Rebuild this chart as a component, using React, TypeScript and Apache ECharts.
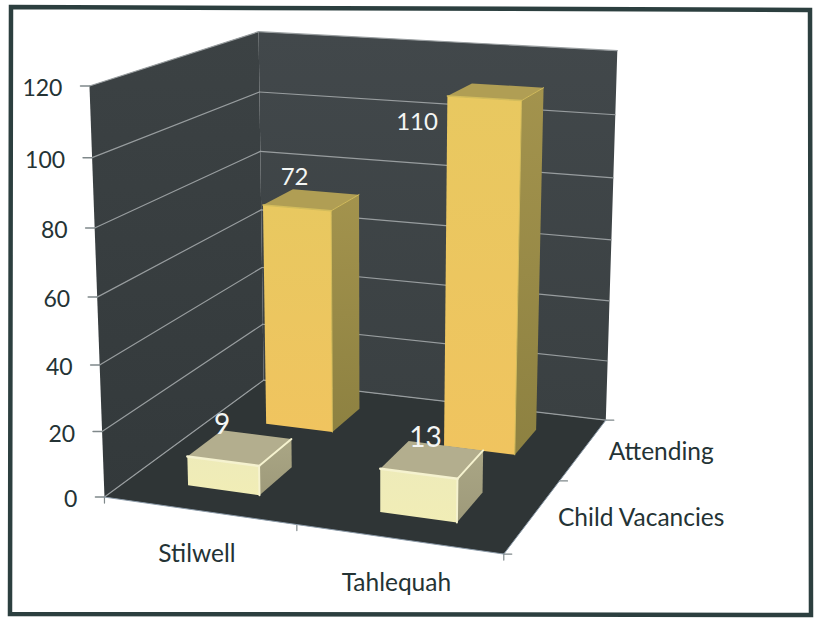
import React, { useEffect, useRef } from "react";
import * as echarts from "echarts";

const categories = ["Stilwell", "Tahlequah"];
const depthNames = ["Child Vacancies", "Attending"];
const childVacancies = [9, 13];
const attending = [72, 110];
const valueTicks = [0, 20, 40, 60, 80, 100, 120];

const W = 814, H = 618;
const FONT = "Lato";
const INK = "#243335";

// calibration of the 3D box: [X, V, Z] -> screen
const calibration: number[][] = [
  [0, 0, 0, 103, 497], [0, 20, 0, 102, 431], [0, 40, 0, 100, 364], [0, 60, 0, 98, 297], [0, 80, 0, 95, 228], [0, 100, 0, 92, 157], [0, 120, 0, 90, 87],
  [0, 0, 1, 265, 380], [0, 20, 1, 263, 325], [0, 40, 1, 262, 267], [0, 60, 1, 261, 210], [0, 80, 1, 260, 152], [0, 100, 1, 259, 92], [0, 120, 1, 258, 31],
  [1, 0, 1, 607, 418], [1, 20, 1, 607, 362], [1, 40, 1, 608, 302], [1, 60, 1, 611, 240], [1, 80, 1, 613, 178], [1, 100, 1, 616, 115], [1, 120, 1, 618, 50],
  [1, 0, 0, 504, 553], [0.5, 0, 0, 296, 527], [1, 0, 0.5, 560, 481],
];

function solveProjection(): number[] {
  const n = 11;
  const A = Array.from({ length: n }, () => new Array(n + 1).fill(0));
  const add = (row: number[], rhs: number) => {
    for (let i = 0; i < n; i++) {
      for (let j = 0; j < n; j++) A[i][j] += row[i] * row[j];
      A[i][n] += row[i] * rhs;
    }
  };
  for (const [x, v0, z, u0, v1] of calibration) {
    const y = v0 / 120, u = u0 / 500, v = v1 / 500;
    add([x, y, z, 1, 0, 0, 0, 0, -u * x, -u * y, -u * z], u);
    add([0, 0, 0, 0, x, y, z, 1, -v * x, -v * y, -v * z], v);
  }
  for (let c = 0; c < n; c++) {
    let p = c;
    for (let r = c + 1; r < n; r++) if (Math.abs(A[r][c]) > Math.abs(A[p][c])) p = r;
    [A[c], A[p]] = [A[p], A[c]];
    for (let r = 0; r < n; r++) {
      if (r === c) continue;
      const f = A[r][c] / A[c][c];
      for (let k = c; k <= n; k++) A[r][k] -= f * A[c][k];
    }
  }
  return A.map((r, i) => r[n] / r[i]);
}
const M = solveProjection();
const project = (x: number, y: number, z: number): number[] => {
  const w = M[8] * x + M[9] * y + M[10] * z + 1;
  return [(500 * (M[0] * x + M[1] * y + M[2] * z + M[3])) / w, (500 * (M[4] * x + M[5] * y + M[6] * z + M[7])) / w];
};

const poly = (pts: number[][], fill: any, extra: any = {}) => ({
  type: "polygon", shape: { points: pts }, style: { fill, ...extra }, silent: true,
});
const seg = (a: number[], b: number[], stroke: string, lineWidth = 1) => ({
  type: "line", shape: { x1: a[0], y1: a[1], x2: b[0], y2: b[1] }, style: { stroke, lineWidth, lineCap: "round" }, silent: true,
});
const txt = (text: string, x: number, y: number, fontSize: number, fill: string, align = "center") => ({
  type: "text", silent: true,
  style: { text, x, y, fontSize, fontFamily: FONT, fill, align, verticalAlign: "middle" },
});
const grad = (a: string, b: string) => new echarts.graphic.LinearGradient(0, 0, 0, 1, [{ offset: 0, color: a }, { offset: 1, color: b }]);

const labelOffsets: Record<string, number[]> = {
  "0-1": [-17, -24], "1-1": [-79, 29], "0-0": [-18, -25], "1-0": [-7, -23],
};
const labelSizes: Record<string, number> = { "0-1": 24, "1-1": 24, "0-0": 28, "1-0": 28 };

const palettes = [
  { front: ["#eeebb9", "#f1edb6"], side: ["#aaa685", "#9e9a7a"], top: "#b3ae8e", bevel: "#f5f2cf", bw: 2.5 },
  { front: ["#e8c860", "#f0c45f"], side: ["#a3934d", "#8d8141"], top: "#b09e54", bevel: "#d3bc5c", bw: 1.5 },
];

export default function App() {
  const ref = useRef<HTMLDivElement>(null);
  useEffect(() => {
    document.body.style.margin = "0";
    document.body.style.background = "#ffffff";
    const chart = echarts.init(ref.current!, null, { renderer: "svg" });

    const renderBox = (_p: any, api: any) => {
      const vOf = (t: number) => (H - api.coord([0, t])[1]) / H;
      const Xc = (i: number) => api.coord([i, 0])[0] / W;
      const kids: any[] = [];
      const a = project(0, 0, 0), b = project(1, 0, 0), c = project(1, 0, 1), d = project(0, 0, 1);
      const a1 = project(0, 1, 0), c1 = project(1, 1, 1), d1 = project(0, 1, 1);
      kids.push(poly([a1, d1, d, a], grad("#3c4244", "#33393b")));
      kids.push(poly([d1, c1, c, d], grad("#42484b", "#3a4042")));
      kids.push(poly([a, b, c, d], "#2f3536"));
      valueTicks.forEach((t) => {
        const v = vOf(t);
        const l = project(0, v, 0), m = project(0, v, 1), r = project(1, v, 1);
        kids.push(seg(l, m, "#989d9f", 1.2), seg(m, r, "#989d9f", 1.2));
        kids.push(seg(l, [l[0] - 9, l[1]], "#7f888a", 1.5));
        kids.push(txt(String(t), l[0] - 27, l[1] + 1, 23, INK, "right"));
      });
      [0, 0.5, 1].forEach((x) => {
        const p = project(x, 0, 0);
        kids.push(seg(p, [p[0], p[1] + 6], "#7f888a", 1.2));
      });
      [0, 0.5, 1].forEach((z) => {
        const p = project(1, 0, z);
        kids.push(seg(p, [p[0] + 8, p[1]], "#7f888a", 1.2));
      });
      kids.push(seg(a, b, "#8b9aa8", 1), seg(b, c, "#8b9aa8", 1));
      categories.forEach((name, i) => {
        const p = project(Xc(i), 0, 0);
        kids.push(txt(name, p[0] - 2, p[1] + 42, 24.5, INK));
      });
      depthNames.forEach((name, s) => {
        const p = project(1, 0, (s + 0.5) / 2);
        kids.push(txt(name, p[0] + 25, p[1] + 1, 24.5, INK, "left"));
      });
      return { type: "group", children: kids };
    };

    const renderBar = (s: number) => (_p: any, api: any) => {
      const i = api.value(0) as number;
      const val = api.value(1) as number;
      const p0 = api.coord([i, val]);
      const xc = p0[0] / W, v = (H - p0[1]) / H;
      const zc = (s + 0.5) / 2;
      const hx = 0.095, hz = 0.105;
      const pal = palettes[s];
      const x0 = xc - hx, x1 = xc + hx, z0 = zc - hz, z1 = zc + hz;
      const fb0 = project(x0, 0, z0), fb1 = project(x1, 0, z0), bb1 = project(x1, 0, z1);
      const ft0 = project(x0, v, z0), ft1 = project(x1, v, z0), bt1 = project(x1, v, z1), bt0 = project(x0, v, z1);
      const center = project(xc, v, zc);
      const off = labelOffsets[`${i}-${s}`];
      return {
        type: "group",
        children: [
          poly([fb1, bb1, bt1, ft1], grad(pal.side[0], pal.side[1])),
          poly([ft0, ft1, bt1, bt0], pal.top),
          poly([ft0, ft1, fb1, fb0], grad(pal.front[0], pal.front[1])),
          seg(ft0, ft1, pal.bevel, pal.bw),
          seg(ft1, fb1, pal.bevel, pal.bw - 0.5),
          seg(ft1, bt1, pal.bevel, pal.bw - 0.5),
          txt(String(val), center[0] + off[0], center[1] + off[1], labelSizes[`${i}-${s}`], "#f4f6f4"),
        ],
      };
    };

    chart.setOption({
      animation: false,
      backgroundColor: "#ffffff",
      grid: { left: 0, top: 0, width: W, height: H },
      xAxis: { type: "category", data: categories, show: false },
      yAxis: { type: "value", min: 0, max: 120, interval: 20, show: false },
      graphic: [
        {
          type: "polygon", z: 100, silent: true,
          shape: { points: [[11, 7], [810, 10], [811, 615], [10, 614], [11, 7]] },
          style: { fill: "none", stroke: "#2c3f3f", lineWidth: 4.5 },
        },
      ],
      series: [
        { type: "custom", name: "box", coordinateSystem: "cartesian2d", clip: false, z: 1, silent: true, data: [[0, 0]], renderItem: renderBox },
        { type: "custom", name: depthNames[1], coordinateSystem: "cartesian2d", clip: false, z: 2, silent: true, data: attending.map((v, i) => [i, v]), renderItem: renderBar(1) },
        { type: "custom", name: depthNames[0], coordinateSystem: "cartesian2d", clip: false, z: 3, silent: true, data: childVacancies.map((v, i) => [i, v]), renderItem: renderBar(0) },
      ],
    });
    return () => chart.dispose();
  }, []);
  return <div ref={ref} style={{ width: W, height: H }} />;
}
